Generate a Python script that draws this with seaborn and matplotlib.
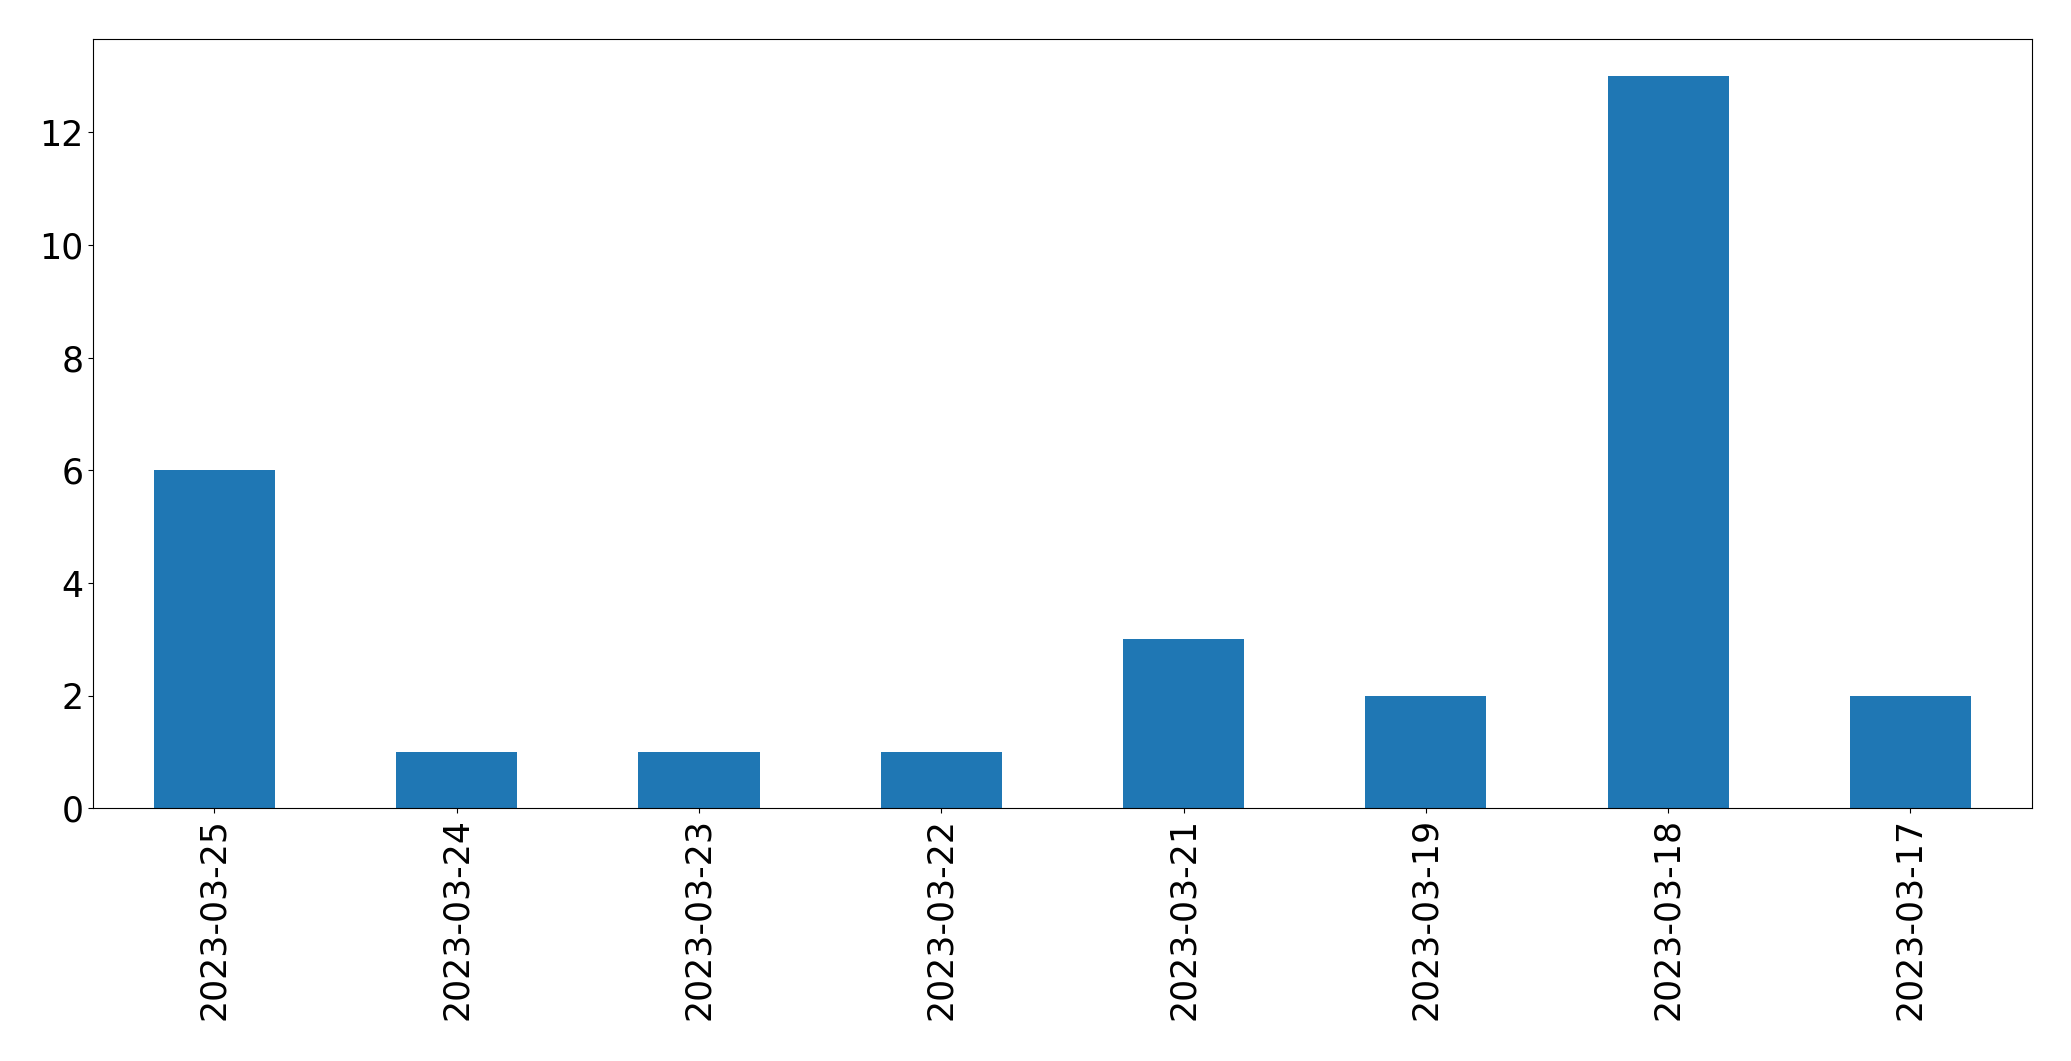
import pandas as pd
import seaborn as sns
import matplotlib.pyplot as plt

# Counts per date, in the order shown on the chart
dates = ['2023-03-25', '2023-03-24', '2023-03-23', '2023-03-22',
         '2023-03-21', '2023-03-19', '2023-03-18', '2023-03-17']
counts = [6, 1, 1, 1, 3, 2, 13, 2]

df = pd.DataFrame({'date': dates, 'count': counts})

sns.set_style('ticks')
plt.rcParams['font.family'] = ['DejaVu Sans']
plt.rcParams['text.color'] = 'black'
plt.rcParams['xtick.color'] = 'black'
plt.rcParams['ytick.color'] = 'black'
plt.rcParams['axes.edgecolor'] = 'black'

fig, ax = plt.subplots(figsize=(20.71, 10.61), dpi=100)
sns.barplot(data=df, x='date', y='count', order=dates, color='#1f77b4',
            saturation=1, width=0.5, linewidth=0, ax=ax)

ax.set_xlabel('')
ax.set_ylabel('')
ax.set_xlim(-0.5, len(dates) - 0.5)
ax.tick_params(axis='both', labelsize=25, length=3.5, width=0.8,
               colors='black', direction='out')
plt.setp(ax.get_xticklabels(), rotation=90)
for s in ax.spines.values():
    s.set_color('black')
    s.set_linewidth(0.8)

fig.subplots_adjust(left=0.045, right=0.981, top=0.963, bottom=0.238)
fig.savefig('out.png', dpi=100)
